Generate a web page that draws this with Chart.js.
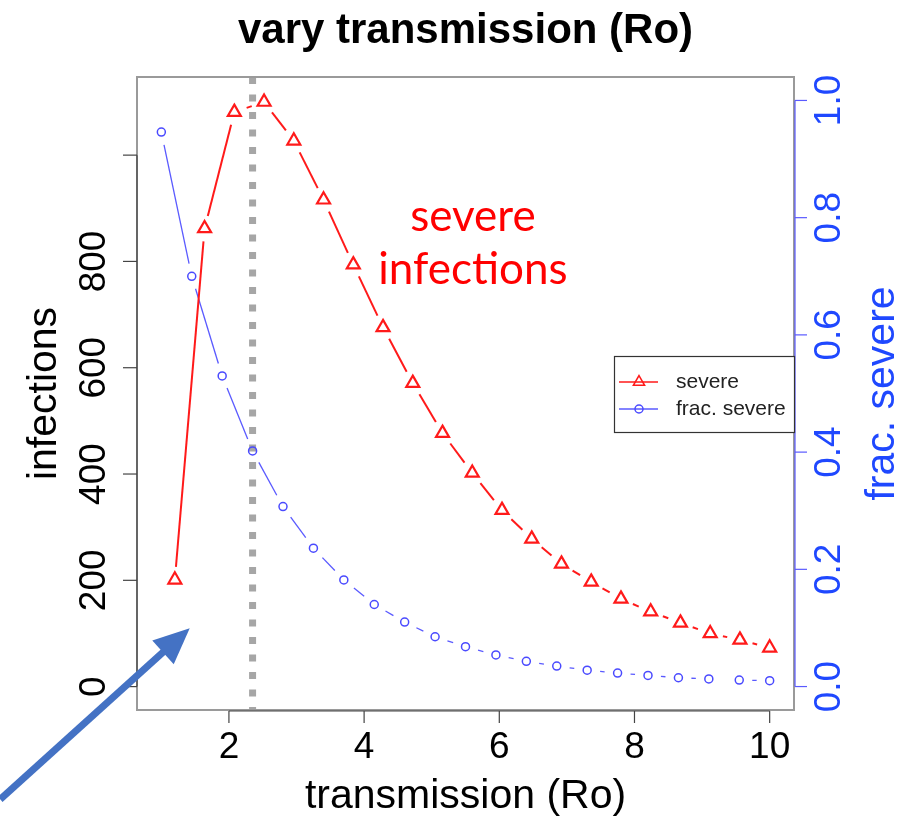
<!DOCTYPE html>
<html>
<head>
<meta charset="utf-8">
<script src="https://cdn.jsdelivr.net/npm/chart.js@4"></script>
<style>
  html, body { margin: 0; padding: 0; background: #fff; }
</style>
</head>
<body>
<canvas id="myChart" width="907" height="819"></canvas>
<script>
// data
const severeRo = [1.2, 1.64, 2.08, 2.52, 2.96, 3.4, 3.84, 4.28, 4.72, 5.16, 5.6,
  6.04, 6.48, 6.92, 7.36, 7.8, 8.24, 8.68, 9.12, 9.56, 10];
const severeInfections = [201, 862, 1081, 1100, 1027, 916, 794, 676, 571, 477, 402,
  332, 278, 231, 197, 165, 141, 120, 100, 88, 73];

const fracRo = [1, 1.45, 1.9, 2.35, 2.8, 3.25, 3.7, 4.15, 4.6, 5.05, 5.5,
  5.95, 6.4, 6.85, 7.3, 7.75, 8.2, 8.65, 9.1, 9.55, 10];
const fracSevere = [0.946, 0.700, 0.530, 0.402, 0.307, 0.236, 0.182, 0.140, 0.110, 0.085, 0.068,
  0.054, 0.043, 0.035, 0.028, 0.023, 0.019, 0.015, 0.013, 0.011, 0.010];

const xTicks = [2, 4, 6, 8, 10];
const xTickLabels = ['2', '4', '6', '8', '10'];
const infTicks = [0, 200, 400, 600, 800, 1000];
const infTickLabels = ['0', '200', '400', '600', '800', ''];
const fracTicks = [0, 0.2, 0.4, 0.6, 0.8, 1.0];
const fracTickLabels = ['0.0', '0.2', '0.4', '0.6', '0.8', '1.0'];

const thresholdRo = 2.35;
const noteText = ['severe', 'infections'];
const noteAt = [5.61, 857, 757];          // Ro, infections (line 1), infections (line 2)
const arrowTail = [-1.384, -212];
const arrowTip = [1.42, 110];

const RED = '#ff1a1a';
const BLUE_LINE = '#5a5aff';
const BLUE_TEXT = '#1f48ff';
const SANS = '"Liberation Sans", Arial, sans-serif';
const gap = 13;

// R type="b": leave a gap round every point
const gapDash = c => {
  const L = Math.hypot(c.p1.x - c.p0.x, c.p1.y - c.p0.y);
  return [Math.max(L - 2 * gap, 0.01), L * 4 + 100];
};

function vText(ctx, text, x, y, font, color) {
  ctx.save();
  ctx.translate(x, y);
  ctx.rotate(-Math.PI / 2);
  ctx.font = font;
  ctx.fillStyle = color;
  ctx.textAlign = 'center';
  ctx.textBaseline = 'alphabetic';
  ctx.fillText(text, 0, 0);
  ctx.restore();
}

const rFrame = {
  id: 'rFrame',
  beforeDatasetsDraw(chart) {
    const ctx = chart.ctx;
    const a = chart.chartArea;
    const px = chart.scales.x.getPixelForValue(thresholdRo);
    ctx.save();
    ctx.strokeStyle = '#a6a6a6';
    ctx.lineWidth = 7;
    ctx.setLineDash([7, 10.5]);
    ctx.beginPath();
    ctx.moveTo(px, a.top);
    ctx.lineTo(px, a.bottom);
    ctx.stroke();
    ctx.restore();
  },
  afterDatasetsDraw(chart) {
    const ctx = chart.ctx;
    const a = chart.chartArea;
    const xs = chart.scales.x, ys = chart.scales.y, ys1 = chart.scales.y1;
    ctx.save();

    // box
    ctx.strokeStyle = '#9a9a9a';
    ctx.lineWidth = 2;
    ctx.strokeRect(a.left, a.top, a.right - a.left, a.bottom - a.top);

    // title
    ctx.fillStyle = '#000';
    ctx.font = 'bold 42px ' + SANS;
    ctx.textAlign = 'center';
    ctx.textBaseline = 'alphabetic';
    ctx.fillText('vary transmission (Ro)', (a.left + a.right) / 2, 43);

    // x axis
    ctx.strokeStyle = '#444';
    ctx.lineWidth = 1.2;
    ctx.beginPath();
    ctx.moveTo(xs.getPixelForValue(xTicks[0]), a.bottom + 1);
    ctx.lineTo(xs.getPixelForValue(xTicks[xTicks.length - 1]), a.bottom + 1);
    ctx.stroke();
    ctx.font = '37px ' + SANS;
    xTicks.forEach((v, i) => {
      const p = xs.getPixelForValue(v);
      ctx.beginPath();
      ctx.moveTo(p, a.bottom + 1);
      ctx.lineTo(p, a.bottom + 13);
      ctx.stroke();
      ctx.fillText(xTickLabels[i], p, 758);
    });
    ctx.font = '41px ' + SANS;
    ctx.fillText('transmission (Ro)', (a.left + a.right) / 2, 808);

    // left axis
    ctx.beginPath();
    ctx.moveTo(a.left, ys.getPixelForValue(infTicks[0]));
    ctx.lineTo(a.left, ys.getPixelForValue(infTicks[infTicks.length - 1]));
    ctx.stroke();
    infTicks.forEach((v, i) => {
      const p = ys.getPixelForValue(v);
      ctx.beginPath();
      ctx.moveTo(a.left, p);
      ctx.lineTo(a.left - 14, p);
      ctx.stroke();
      vText(ctx, infTickLabels[i], 105, p, '37px ' + SANS, '#000');
    });
    vText(ctx, 'infections', 56, (a.top + a.bottom) / 2, '41px ' + SANS, '#000');

    // right axis
    ctx.strokeStyle = BLUE_LINE;
    ctx.beginPath();
    ctx.moveTo(a.right + 1, ys1.getPixelForValue(fracTicks[0]));
    ctx.lineTo(a.right + 1, ys1.getPixelForValue(fracTicks[fracTicks.length - 1]));
    ctx.stroke();
    fracTicks.forEach((v, i) => {
      const p = ys1.getPixelForValue(v);
      ctx.beginPath();
      ctx.moveTo(a.right + 1, p);
      ctx.lineTo(a.right + 13, p);
      ctx.stroke();
      vText(ctx, fracTickLabels[i], 840, p, '37px ' + SANS, BLUE_TEXT);
    });
    vText(ctx, 'frac. severe', 894, (a.top + a.bottom) / 2, '41px ' + SANS, BLUE_TEXT);

    // legend
    const lx = 614, ly = 356, lw = a.right - lx, lh = 76;
    ctx.fillStyle = '#fff';
    ctx.fillRect(lx, ly, lw, lh);
    ctx.strokeStyle = '#333';
    ctx.lineWidth = 1.2;
    ctx.strokeRect(lx + 0.5, ly + 0.5, lw, lh);
    chart.data.datasets.forEach((ds, i) => {
      const y = ly + 26 + i * 27;
      ctx.strokeStyle = ds.borderColor;
      ctx.lineWidth = 1.5;
      ctx.beginPath();
      ctx.moveTo(lx + 5, y);
      ctx.lineTo(lx + 44, y);
      ctx.stroke();
      ctx.fillStyle = 'rgba(0,0,0,0)';
      ctx.strokeStyle = ds.pointBorderColor;
      ctx.lineWidth = 1.5;
      Chart.helpers.drawPoint(ctx, {
        pointStyle: ds.pointStyle, rotation: 0,
        radius: ds.pointStyle === 'triangle' ? 6.5 : 4, borderWidth: 1.5
      }, lx + 25, y);
      ctx.fillStyle = '#222';
      ctx.font = '21px ' + SANS;
      ctx.textAlign = 'left';
      ctx.textBaseline = 'middle';
      ctx.fillText(ds.label, lx + 62, y);
    });

    // red note
    ctx.fillStyle = '#ff0000';
    ctx.font = '44px Lato, "Open Sans", sans-serif';
    ctx.textAlign = 'center';
    ctx.textBaseline = 'alphabetic';
    const nx = xs.getPixelForValue(noteAt[0]);
    ctx.fillText(noteText[0], nx, ys.getPixelForValue(noteAt[1]));
    ctx.fillText(noteText[1], nx, ys.getPixelForValue(noteAt[2]));
    ctx.restore();
  },
  afterDraw(chart) {
    const ctx = chart.ctx;
    const xs = chart.scales.x, ys = chart.scales.y;
    const t0 = { x: xs.getPixelForValue(arrowTail[0]), y: ys.getPixelForValue(arrowTail[1]) };
    const t1 = { x: xs.getPixelForValue(arrowTip[0]), y: ys.getPixelForValue(arrowTip[1]) };
    const ang = Math.atan2(t1.y - t0.y, t1.x - t0.x);
    const headLen = 36, half = 16;
    const bx = t1.x - headLen * Math.cos(ang), by = t1.y - headLen * Math.sin(ang);
    ctx.save();
    ctx.strokeStyle = '#4472c4';
    ctx.fillStyle = '#4472c4';
    ctx.lineWidth = 7;
    ctx.beginPath();
    ctx.moveTo(t0.x, t0.y);
    ctx.lineTo(bx + 2 * Math.cos(ang), by + 2 * Math.sin(ang));
    ctx.stroke();
    ctx.beginPath();
    ctx.moveTo(t1.x, t1.y);
    ctx.lineTo(bx - half * Math.sin(ang), by + half * Math.cos(ang));
    ctx.lineTo(bx + half * Math.sin(ang), by - half * Math.cos(ang));
    ctx.closePath();
    ctx.fill();
    ctx.restore();
  }
};

const ctx = document.getElementById('myChart').getContext('2d');
const chart = new Chart(ctx, {
  type: 'line',
  data: {
    datasets: [
      {
        label: 'severe',
        data: severeRo.map((x, i) => ({ x: x, y: severeInfections[i] })),
        yAxisID: 'y',
        borderColor: RED,
        borderWidth: 2,
        pointStyle: 'triangle',
        pointRadius: 7.5,
        pointBorderWidth: 2.2,
        pointBorderColor: RED,
        pointBackgroundColor: 'rgba(0,0,0,0)',
        segment: { borderDash: gapDash, borderDashOffset: () => -gap }
      },
      {
        label: 'frac. severe',
        data: fracRo.map((x, i) => ({ x: x, y: fracSevere[i] })),
        yAxisID: 'y1',
        borderColor: BLUE_LINE,
        borderWidth: 1.3,
        pointStyle: 'circle',
        pointRadius: 4,
        pointBorderWidth: 1.5,
        pointBorderColor: '#4a4aff',
        pointBackgroundColor: 'rgba(0,0,0,0)',
        segment: { borderDash: gapDash, borderDashOffset: () => -gap }
      }
    ]
  },
  options: {
    responsive: false,
    animation: false,
    layout: { autoPadding: false, padding: { left: 137, right: 113, top: 77, bottom: 109 } },
    scales: {
      x: { type: 'linear', min: 0.64, max: 10.36, display: false },
      y: { min: -44, max: 1147, display: false },
      y1: { position: 'right', min: -0.04, max: 1.04, display: false }
    },
    plugins: {
      legend: { display: false },
      tooltip: { enabled: false }
    }
  },
  plugins: [rFrame]
});
</script>
</body>
</html>
